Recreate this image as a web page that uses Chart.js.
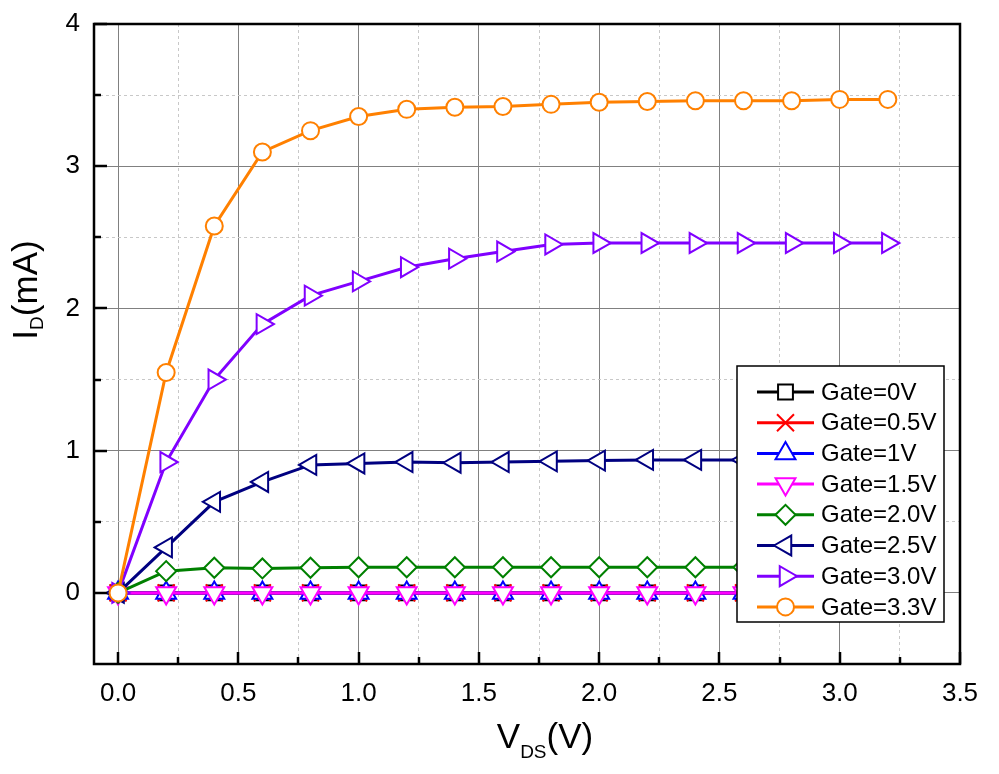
<!DOCTYPE html>
<html><head><meta charset="utf-8">
<script src="https://cdn.jsdelivr.net/npm/chart.js@4.4.1/dist/chart.umd.min.js"></script>
<style>html,body{margin:0;padding:0;background:#fff}#wrap{width:999px;height:774px;position:relative}</style>
</head><body><div id="wrap"><canvas id="c"></canvas></div>
<script>
// ---- data ----
const vds = [0, 0.2, 0.4, 0.6, 0.8, 1.0, 1.2, 1.4, 1.6, 1.8, 2.0, 2.2, 2.4, 2.6, 2.8, 3.0, 3.2];
const gate0V  = [0,0,0,0,0,0,0,0,0,0,0,0,0,0,0,0,0];
const gate05V = [0,0,0,0,0,0,0,0,0,0,0,0,0,0,0,0,0];
const gate1V  = [0,0,0,0,0,0,0,0,0,0,0,0,0,0,0,0,0];
const gate15V = [0,0,0,0,0,0,0,0,0,0,0,0,0,0,0,0,0];
const gate20V = [0, 0.153, 0.177, 0.172, 0.177, 0.18, 0.18, 0.18, 0.18, 0.18, 0.18, 0.18, 0.18, 0.18, 0.18, 0.18, 0.18];
const gate25V = [0, 0.32, 0.64, 0.78, 0.90, 0.91, 0.92, 0.915, 0.92, 0.925, 0.93, 0.935, 0.935, 0.935, 0.94, 0.94, 0.94];
const gate30V = [0, 0.92, 1.50, 1.89, 2.09, 2.19, 2.29, 2.35, 2.40, 2.45, 2.46, 2.46, 2.46, 2.46, 2.46, 2.46, 2.46];
const gate33V = [0, 1.55, 2.58, 3.10, 3.25, 3.35, 3.40, 3.415, 3.42, 3.435, 3.45, 3.455, 3.46, 3.46, 3.46, 3.47, 3.47];
const seriesLabels = ['Gate=0V','Gate=0.5V','Gate=1V','Gate=1.5V','Gate=2.0V','Gate=2.5V','Gate=3.0V','Gate=3.3V'];
const xMajorTicks = [0, 0.5, 1, 1.5, 2, 2.5, 3, 3.5];
const xTickLabels = ['0.0','0.5','1.0','1.5','2.0','2.5','3.0','3.5'];
const xMinorTicks = [0.25, 0.75, 1.25, 1.75, 2.25, 2.75, 3.25];
const yMajorTicks = [0, 1, 2, 3, 4];
const yTickLabels = ['0','1','2','3','4'];
const yMinorTicks = [0.5, 1.5, 2.5, 3.5];

// ---- styles ----
const seriesValues = [gate0V, gate05V, gate1V, gate15V, gate20V, gate25V, gate30V, gate33V];
const colors = ['#000000','#ff0000','#0000ff','#ff00ff','#008000','#000080','#8000ff','#ff8000'];
const pStyles = ['rect','crossRot','triangle','triangle','rectRot','triangle','triangle','circle'];
const pRot = [0,0,0,180,0,-90,90,0];
const pRad = [10.5,12,11.5,11.5,10,11.5,11.5,8.5];

const datasets = seriesValues.map((vals, i) => ({
  label: seriesLabels[i],
  data: vds.map((x, j) => ({x: x, y: vals[j]})),
  borderColor: colors[i],
  backgroundColor: '#ffffff',
  borderWidth: 3,
  pointStyle: pStyles[i],
  pointRotation: pRot[i],
  pointRadius: pRad[i],
  pointBorderWidth: 2,
  pointBackgroundColor: '#ffffff',
  pointBorderColor: colors[i],
  tension: 0,
  order: 7 - i
}));

const FONT = '"Liberation Sans", Arial, sans-serif';
const isIn = (arr, v) => arr.some(a => Math.abs(a - v) < 1e-6);

const decor = {
  id: 'decor',
  afterDatasetsDraw(chart) {
    const {ctx, chartArea: a, scales: {x, y}} = chart;
    ctx.save();
    ctx.strokeStyle = '#000';
    ctx.lineWidth = 2.5;
    ctx.beginPath();
    xMajorTicks.forEach(v => { const p = Math.round(x.getPixelForValue(v)); ctx.moveTo(p, a.bottom); ctx.lineTo(p, a.bottom - 12); });
    xMinorTicks.forEach(v => { const p = Math.round(x.getPixelForValue(v)); ctx.moveTo(p, a.bottom); ctx.lineTo(p, a.bottom - 7); });
    yMajorTicks.forEach(v => { const p = Math.round(y.getPixelForValue(v)); ctx.moveTo(a.left, p); ctx.lineTo(a.left + 13, p); });
    yMinorTicks.forEach(v => { const p = Math.round(y.getPixelForValue(v)); ctx.moveTo(a.left, p); ctx.lineTo(a.left + 7, p); });
    ctx.stroke();
    ctx.lineWidth = 2.5;
    ctx.strokeRect(a.left, a.top, a.right - a.left, a.bottom - a.top);
    ctx.restore();
  },
  afterDraw(chart) {
    const ctx = chart.ctx;
    ctx.save();
    // legend
    const L = {x: 737, y: 366, w: 207, h: 256};
    ctx.fillStyle = '#fff';
    ctx.fillRect(L.x, L.y, L.w, L.h);
    ctx.strokeStyle = '#000'; ctx.lineWidth = 1.5;
    ctx.strokeRect(L.x, L.y, L.w, L.h);
    chart.data.datasets.forEach((ds, i) => {
      const cy = 392 + i * 30.7;
      ctx.strokeStyle = ds.borderColor; ctx.lineWidth = 3;
      ctx.beginPath(); ctx.moveTo(757, cy); ctx.lineTo(814, cy); ctx.stroke();
      ctx.fillStyle = '#fff'; ctx.strokeStyle = ds.pointBorderColor; ctx.lineWidth = 2;
      Chart.helpers.drawPoint(ctx, {pointStyle: ds.pointStyle, rotation: ds.pointRotation, radius: ds.pointRadius, borderWidth: 2}, 785.5, cy);
      ctx.fillStyle = '#000';
      ctx.font = '24px ' + FONT;
      ctx.textBaseline = 'middle'; ctx.textAlign = 'left';
      ctx.fillText(ds.label, 821, cy + 1);
    });
    // x title
    ctx.fillStyle = '#000';
    ctx.textBaseline = 'alphabetic'; ctx.textAlign = 'left';
    const big = '35px ' + FONT, small = '19px ' + FONT;
    ctx.font = big; const wV = ctx.measureText('V').width; const wP = ctx.measureText('(V)').width;
    ctx.font = small; const wDS = ctx.measureText('DS').width;
    let x0 = 545 - (wV + wDS + wP) / 2;
    ctx.font = big; ctx.fillText('V', x0, 748);
    ctx.font = small; ctx.fillText('DS', x0 + wV, 758);
    ctx.font = big; ctx.fillText('(V)', x0 + wV + wDS, 748);
    // y title
    ctx.translate(37, 290);
    ctx.rotate(-Math.PI / 2);
    ctx.font = big; const wI = ctx.measureText('I').width; const wM = ctx.measureText('(mA)').width;
    ctx.font = small; const wD = ctx.measureText('D').width;
    let s0 = -(wI + wD + wM) / 2;
    ctx.font = big; ctx.fillText('I', s0, 0);
    ctx.font = small; ctx.fillText('D', s0 + wI, 6);
    ctx.font = big; ctx.fillText('(mA)', s0 + wI + wD, 0);
    ctx.restore();
  }
};

new Chart(document.getElementById('c'), {
  type: 'line',
  data: {datasets: datasets},
  options: {
    responsive: true,
    maintainAspectRatio: false,
    animation: false,
    events: [],
    layout: {padding: {top: 24, right: 39, left: 0, bottom: 0}},
    plugins: {legend: {display: false}, tooltip: {enabled: false}, title: {display: false}},
    scales: {
      x: {
        type: 'linear', min: -0.1, max: 3.5,
        afterBuildTicks: s => { s.ticks = xMajorTicks.concat(xMinorTicks).sort((a, b) => a - b).map(v => ({value: v})); },
        afterFit: s => { s.height = 110; s.paddingLeft = 0; s.paddingRight = 0; },
        ticks: {
          autoSkip: false, maxRotation: 0, padding: 14, color: '#000',
          font: {family: FONT, size: 26},
          callback: v => { const k = xMajorTicks.findIndex(m => Math.abs(m - v) < 1e-6); return k >= 0 ? xTickLabels[k] : ''; }
        },
        grid: {
          drawTicks: false, lineWidth: 1,
          color: c => (c.tick && isIn(xMajorTicks, c.tick.value)) ? '#808080' : '#c8c8c8'
        },
        border: {display: false, dash: c => (c.tick && isIn(xMajorTicks, c.tick.value)) ? [] : [3, 3]}
      },
      y: {
        type: 'linear', min: -0.5, max: 4,
        afterBuildTicks: s => { s.ticks = yMajorTicks.concat(yMinorTicks).sort((a, b) => a - b).map(v => ({value: v})); },
        afterFit: s => { s.width = 94; s.paddingTop = 0; s.paddingBottom = 0; },
        ticks: {
          autoSkip: false, padding: 14, color: '#000',
          font: {family: FONT, size: 26},
          callback: v => { const k = yMajorTicks.findIndex(m => Math.abs(m - v) < 1e-6); return k >= 0 ? yTickLabels[k] : ''; }
        },
        grid: {
          drawTicks: false, lineWidth: 1,
          color: c => (c.tick && isIn(yMajorTicks, c.tick.value)) ? '#808080' : '#c8c8c8'
        },
        border: {display: false, dash: c => (c.tick && isIn(yMajorTicks, c.tick.value)) ? [] : [3, 3]}
      }
    }
  },
  plugins: [decor]
});
</script>
</body></html>
